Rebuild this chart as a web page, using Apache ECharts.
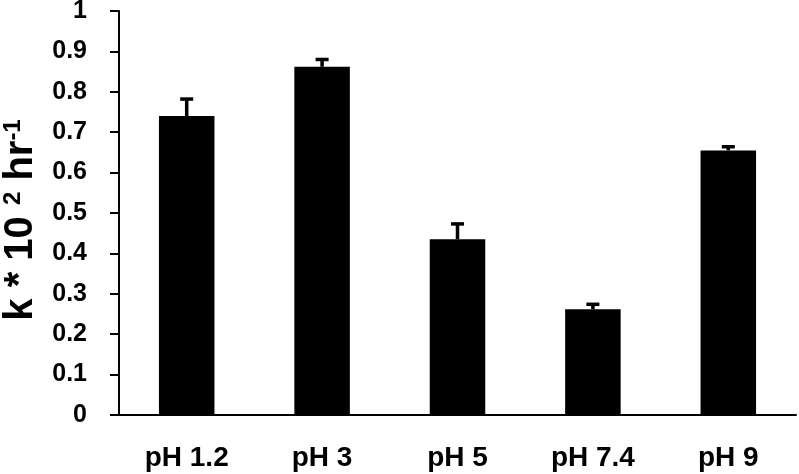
<!DOCTYPE html>
<html>
<head>
<meta charset="utf-8">
<script src="https://cdn.jsdelivr.net/npm/echarts@6/dist/echarts.min.js"></script>
<style>
  html, body { margin: 0; padding: 0; background: #fff; }
  #chart { width: 799px; height: 474px; }
</style>
</head>
<body>
<div id="chart"></div>
<script>
// values
const categories = ['pH 1.2', 'pH 3', 'pH 5', 'pH 7.4', 'pH 9'];
const rates = [0.74, 0.862, 0.435, 0.262, 0.655];
const errors = [0.042, 0.018, 0.038, 0.012, 0.009];
const yTicks = { min: 0, max: 1, interval: 0.1 };

const font = 'Liberation Sans, Arial, sans-serif';
const chart = echarts.init(document.getElementById('chart'), null, { renderer: 'canvas' });

const errorBar = (params, api) => {
  const i = api.value(0);
  const top = api.coord([i, api.value(2)]);
  const base = api.coord([i, api.value(1)]);
  const half = 6.5;
  const style = { stroke: '#000', lineWidth: 3.5 };
  return {
    type: 'group',
    children: [
      { type: 'line', shape: { x1: base[0], y1: base[1], x2: top[0], y2: top[1] }, style },
      { type: 'line', shape: { x1: top[0] - half, y1: top[1], x2: top[0] + half, y2: top[1] }, style }
    ]
  };
};

chart.setOption({
  animation: false,
  grid: { left: 119, right: 3, top: 11, bottom: 59, outerBoundsMode: 'none', containLabel: false },
  xAxis: {
    type: 'category',
    data: categories,
    axisLine: { lineStyle: { color: '#000', width: 2 } },
    axisTick: { length: 8, lineStyle: { color: '#000', width: 2 } },
    axisLabel: { color: '#000', fontFamily: font, fontWeight: 'bold', fontSize: 28, margin: 29 }
  },
  yAxis: {
    type: 'value',
    ...yTicks,
    name: '{a|k * 10 }{s|2}{a| hr}{s|-1}',
    nameLocation: 'middle',
    nameGap: 76,
    nameRotate: 90,
    nameTextStyle: {
      padding: [0, 14, 0, 0],
      rich: {
        a: { fontFamily: font, fontWeight: 'bold', fontSize: 40, color: '#000' },
        s: { fontFamily: font, fontWeight: 'bold', fontSize: 24, color: '#000', verticalAlign: 'top', padding: [0, 0, 16, 0] }
      }
    },
    splitLine: { show: false },
    axisLine: { show: true, lineStyle: { color: '#000', width: 2 } },
    axisTick: { show: true, length: 9, lineStyle: { color: '#000', width: 2 } },
    axisLabel: { color: '#000', fontFamily: font, fontWeight: 'bold', fontSize: 25, margin: 32 }
  },
  series: [
    {
      type: 'bar',
      data: rates,
      barWidth: '41%',
      itemStyle: { color: '#000' }
    },
    {
      type: 'custom',
      renderItem: errorBar,
      data: rates.map((v, i) => [i, v, v + errors[i]]),
      z: 3
    }
  ]
});
</script>
</body>
</html>
